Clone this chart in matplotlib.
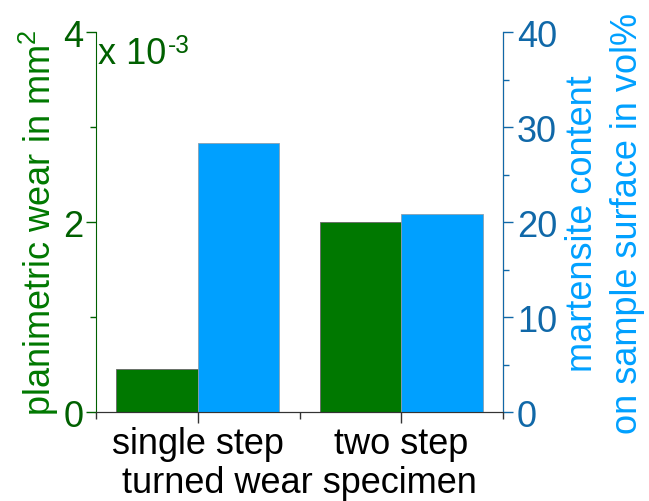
import numpy as np
import matplotlib.pyplot as plt
from matplotlib.ticker import MultipleLocator, FixedLocator

plt.rcParams['font.family'] = ['Liberation Sans', 'DejaVu Sans']
plt.rcParams['mathtext.default'] = 'regular'

specimens = ['single step', 'two step']
wear = [0.45e-3, 2.0e-3]          # planimetric wear in mm^2
martensite = [28.3, 20.9]         # vol%

green = '#007800'
green_dark = '#006000'
blue = '#00A0FF'
blue_dark = '#1068A8'

fig = plt.figure(figsize=(6.49, 5.02), dpi=100)
ax = fig.add_axes([0.148, 0.177, 0.627, 0.757])
ax2 = ax.twinx()

x = np.arange(1, len(specimens) + 1)
w = 0.4
ax.bar(x - w / 2, np.array(wear) * 1e3, width=w, color=green,
       edgecolor='#666666', linewidth=0.6)
ax2.bar(x + w / 2, martensite, width=w, color=blue,
        edgecolor='#8aa0b0', linewidth=0.6)

ax.set_xlim(0.5, 2.5)
ax.set_ylim(0, 4)
ax2.set_ylim(0, 40)

ax.set_xticks(x)
ax.set_xticklabels(specimens)
ax.xaxis.set_minor_locator(FixedLocator([0.5, 1.5, 2.5]))
ax.set_yticks([0, 2, 4])
ax.yaxis.set_minor_locator(MultipleLocator(1))
ax2.set_yticks([0, 10, 20, 30, 40])
ax2.yaxis.set_minor_locator(MultipleLocator(5))

fs = 26
ax.tick_params(axis='x', which='major', length=8, width=1, labelsize=fs, colors='#333333',
               labelcolor='black', pad=2)
ax.tick_params(axis='x', which='minor', length=5, width=1, colors='#333333')
ax.tick_params(axis='y', which='major', length=7, width=1, colors=green_dark, labelsize=fs,
               pad=2)
ax.tick_params(axis='y', which='minor', length=4, width=1, colors=green_dark)
ax2.tick_params(axis='y', which='major', length=7, width=1, colors=blue_dark, labelsize=fs,
                pad=3)
ax2.tick_params(axis='y', which='minor', length=4, width=1, colors=blue_dark)

for a in (ax, ax2):
    a.spines['top'].set_visible(False)
ax.spines['left'].set_color(green_dark)
ax2.spines['left'].set_visible(False)
ax2.spines['right'].set_color(blue_dark)
ax2.spines['bottom'].set_color('#333333')
ax.spines['bottom'].set_color('#333333')

ax.set_xlabel('turned wear specimen', fontsize=fs, labelpad=3)
ax.set_ylabel('planimetric wear in mm$^2$', fontsize=fs, color=green, labelpad=2)
ax2.set_ylabel('martensite content\non sample surface in vol%', fontsize=fs,
               color=blue, labelpad=6, linespacing=1.35)

# scale factor for the wear axis, with a plain hyphen in the exponent
t1 = ax.text(0.005, 0.99, 'x 10', transform=ax.transAxes, fontsize=fs,
             color=green_dark, ha='left', va='top')
ax.annotate('-3', xy=(1, 1), xycoords=t1, xytext=(1, 2), textcoords='offset points',
            fontsize=fs * 0.68, color=green_dark, ha='left', va='top')

fig.savefig('out.png', dpi=100)
